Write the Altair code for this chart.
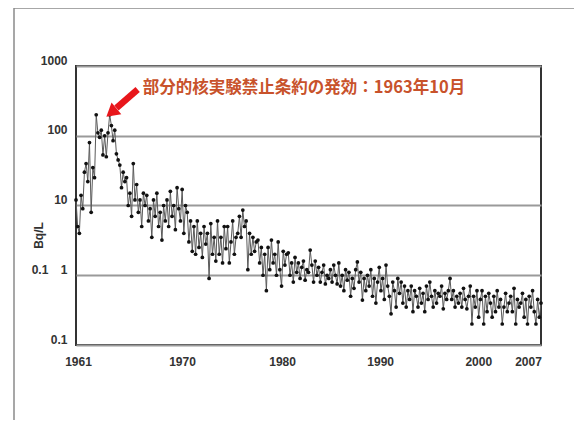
import altair as alt
import pandas as pd

# Bimonthly samples (6 per year), Bq/L
values_1960s = [
    12, 5, 4, 14, 9, 30,
    40, 22, 80, 8, 35, 25,
    200, 110, 95, 120, 53, 100,
    50, 110, 200, 140, 85, 120,
    55, 45, 38, 18, 30, 22,
    25, 10, 15, 7, 40, 12,
    20, 8, 12, 5, 15, 10,
    14, 6, 9, 3.5, 12, 7,
    15, 5, 8, 3.2, 10, 6,
]
values_1970s = [
    12, 5, 16, 7, 10, 4.5,
    18, 9, 6, 17, 4, 10,
    8, 3, 6, 2.2, 5, 2,
    6, 2.5, 4, 1.8, 5, 2.8,
    4, 0.9, 5.5, 2, 3.5, 1.6,
    6, 2, 3.5, 1.5, 5, 2.4,
    5, 1.5, 3, 6, 2, 3.5,
    4, 7, 3.5, 8.6, 5, 6,
    1.2, 4, 2, 3.5, 2.2, 3,
    3.2, 1.5, 2.5, 1, 2, 0.6,
]
values_1980s = [
    2.5, 1.2, 3.2, 1.5, 2, 1,
    3, 1.2, 0.7, 2.2, 1.4, 2,
    2.1, 1, 1.5, 0.8, 1.8, 1.1,
    1.5, 0.9, 1.3, 1.6, 0.85, 1.2,
    1.1, 2.3, 1.4, 0.8, 1.6, 1.0,
    1.3, 0.8, 1.1, 1.4, 0.75, 1.0,
    0.9, 1.2, 0.8, 1.4, 1.0, 0.75,
    1.5, 0.7, 1.0, 0.6, 1.2, 0.85,
    1.1, 0.5, 0.9, 0.65, 1.2, 1.55,
    0.8, 1.1, 0.44, 0.9, 0.6, 1.0,
]
values_1990s = [
    0.7, 1.2, 0.5, 0.9, 0.4, 0.8,
    1.3, 0.6, 0.9, 0.45, 1.4, 0.7,
    0.5, 0.28, 0.8, 0.6, 0.35, 0.9,
    0.55, 0.8, 0.4, 0.7, 0.35, 0.6,
    0.45, 0.7, 0.3, 0.6, 0.5, 0.35,
    0.65, 0.4, 0.55, 0.3, 0.7, 0.45,
    0.8, 0.5, 0.35, 0.6, 0.4, 0.55,
    0.5, 0.7, 0.33, 0.55, 0.45, 0.6,
    0.9, 0.45, 0.6, 0.35, 0.5, 0.4,
    0.55, 0.35, 0.65, 0.45, 0.33, 0.5,
]
values_2000s = [
    0.7, 0.2, 0.5, 0.35, 0.6, 0.25,
    0.45, 0.6, 0.2, 0.5, 0.3, 0.55,
    0.4, 0.25, 0.5, 0.3, 0.6, 0.35,
    0.45, 0.2, 0.35, 0.55, 0.3, 0.4,
    0.5, 0.3, 0.65, 0.2, 0.45, 0.35,
    0.4, 0.55, 0.25, 0.45, 0.2, 0.5,
    0.35, 0.6, 0.3, 0.2, 0.45, 0.25,
    0.4,
]

x_ticks = [1961, 1970, 1980, 1990, 2000, 2007]
y_ticks = [0.1, 1, 10, 100, 1000]
annotation_text = "部分的核実験禁止条約の発効：1963年10月"
y_title = "Bq/L"

all_vals = values_1960s + values_1970s + values_1980s + values_1990s + values_2000s
df = pd.DataFrame({"t": [1961 + i / 6 for i in range(len(all_vals))], "v": all_vals})

# annotation anchor points (data coordinates)
arrow_df = pd.DataFrame({"t": [1967.1, 1965.0], "v": [460, 250]})
tip_df = pd.DataFrame({"t": [1964.5], "v": [215]})
text_df = pd.DataFrame({"t": [1967.6], "v": [485], "label": [annotation_text]})

xs = alt.Scale(domain=[1961, 2007], nice=False, zero=False)
ys = alt.Scale(type="log", domain=[0.1, 1000], nice=False)

offset_expr = ("datum.value == 1961 ? 2 : datum.value == 2007 ? -13 : "
               "datum.value == 1970 ? 15 : datum.value == 1980 ? 14 : "
               "datum.value == 1990 ? 11 : 8")

x_enc = alt.X("t:Q", scale=xs, axis=alt.Axis(
    values=x_ticks, format="d", ticks=False, grid=False, domain=False,
    labelOffset={"expr": offset_expr}, labelPadding=11, title=None,
    labelFont="Liberation Sans", labelFontWeight="bold", labelFontSize=12,
    labelColor="#333333", labelFlush=False))
y_enc = alt.Y("v:Q", scale=ys, axis=alt.Axis(
    values=y_ticks, labelExpr="format(datum.value, '~g')", ticks=False,
    domain=False, gridColor="#9a9a9a", gridWidth=2, gridOpacity=1,
    labelPadding=9, labelOffset=-6, labelFont="Liberation Sans",
    labelFontWeight="bold", labelFontSize=12, labelColor="#333333",
    title=y_title, titleAngle=270, titleX=-38, titleY=169,
    titleAlign="center", titleBaseline="middle", titleFont="Liberation Sans",
    titleFontWeight="bold", titleFontSize=12, titleColor="#333333"))

line = alt.Chart(df).mark_line(color="#5a5a5a", strokeWidth=1).encode(x=x_enc, y=y_enc)
pts = alt.Chart(df).mark_circle(color="#111111", size=14, opacity=1).encode(x="t:Q", y="v:Q")

arrow_shaft = alt.Chart(arrow_df).mark_line(color="#e8161b", strokeWidth=6.5).encode(x="t:Q", y="v:Q")
arrow_head = alt.Chart(tip_df).mark_point(
    shape="triangle-up", filled=True, color="#e8161b", size=230, angle=230, opacity=1
).encode(x="t:Q", y="v:Q")
note = alt.Chart(text_df).mark_text(
    align="left", baseline="middle", font="Noto Sans CJK JP", fontSize=16.5,
    fontWeight="bold", color="#c8522b"
).encode(x="t:Q", y="v:Q", text="label:N")

extra_label = alt.Chart(pd.DataFrame({"s": ["0.1"]})).mark_text(
    font="Liberation Sans", fontWeight="bold", fontSize=12, color="#333333",
    align="center", baseline="middle"
).encode(x=alt.value(-36), y=alt.value(204), text="s:N")

frame_top = alt.Chart(pd.DataFrame({"a": [0]})).mark_rule(color="#8a8a8a", strokeWidth=1.5).encode(
    x=alt.value(-62), x2=alt.value(530), y=alt.value(-58))
frame_left = alt.Chart(pd.DataFrame({"a": [0]})).mark_rule(color="#8a8a8a", strokeWidth=1.5).encode(
    x=alt.value(-62), y=alt.value(-58), y2=alt.value(380))

chart = alt.layer(
    frame_top, frame_left, line, pts, arrow_shaft, arrow_head, note, extra_label
).properties(
    width=465, height=279,
    padding={"left": 68, "top": 58, "right": 33, "bottom": 75},
    autosize=alt.AutoSizeParams(type="none"),
    background="white",
).configure_view(
    stroke="#333333", strokeWidth=2
)

chart.save("out.html", embed_options={"renderer": "svg", "actions": False})
